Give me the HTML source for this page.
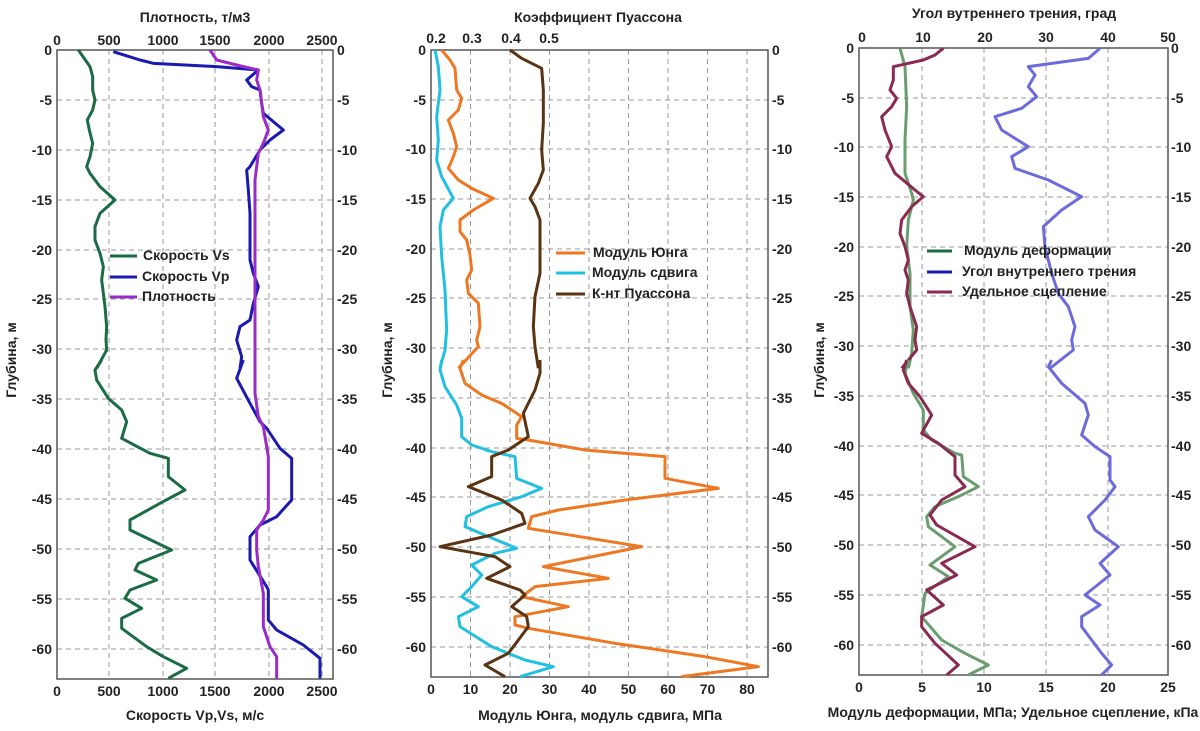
<!DOCTYPE html>
<html><head><meta charset="utf-8"><style>
html,body{margin:0;padding:0;background:#fff;}
svg{display:block;font-family:"Liberation Sans",Arial,sans-serif;font-weight:bold;}
.t{font-size:14px;fill:#222;}
.g{stroke:#999;stroke-width:1;stroke-dasharray:5,4;fill:none;}
.s{fill:none;stroke-width:3;vector-effect:non-scaling-stroke;stroke-linejoin:round;}
</style></head><body>
<svg width="1200" height="731" viewBox="0 0 1200 731">
<!-- PANEL 1 -->
<g>
<g class="g">
<line x1="109" y1="50" x2="109" y2="679"/><line x1="163" y1="50" x2="163" y2="679"/><line x1="215" y1="50" x2="215" y2="679"/><line x1="269" y1="50" x2="269" y2="679"/><line x1="322" y1="50" x2="322" y2="679"/>
<line x1="57" y1="50" x2="333" y2="50"/><line x1="57" y1="100" x2="333" y2="100"/><line x1="57" y1="150" x2="333" y2="150"/><line x1="57" y1="200" x2="333" y2="200"/><line x1="57" y1="250" x2="333" y2="250"/><line x1="57" y1="299" x2="333" y2="299"/><line x1="57" y1="349" x2="333" y2="349"/><line x1="57" y1="399" x2="333" y2="399"/><line x1="57" y1="449" x2="333" y2="449"/><line x1="57" y1="499" x2="333" y2="499"/><line x1="57" y1="549" x2="333" y2="549"/><line x1="57" y1="599" x2="333" y2="599"/><line x1="57" y1="649" x2="333" y2="649"/>
</g>
<rect x="57" y="50" width="276" height="629" fill="none" stroke="#555" stroke-width="1.5"/>
<g transform="translate(50,40) scale(0.33333)">
<polyline class="s" stroke="#1b6b45" points="85,30 120,80 128,110 128,150 135,180 128,210 112,240 118,270 128,310 120,350 110,380 120,400 150,440 195,480 150,520 135,560 135,600 150,640 160,680 155,720 160,760 165,800 170,860 168,900 170,930 140,985"/>
<polyline class="s" stroke="#1a1ab0" points="190,35 270,60 310,70 500,80 625,90 590,120 605,140 630,150 635,190 640,220 700,270 660,300 630,330 600,380 590,390 595,450 600,520 600,600 600,660 610,700 625,740 610,790 600,840 570,860 560,900 575,950 570,985"/>
<polyline class="s" stroke="#9b2bc8" points="480,30 500,60 560,75 625,90 620,120 630,150 635,190 640,230 655,270 640,310 625,340 620,380 615,420 615,980"/>
</g>
<g transform="translate(50,360) scale(0.33333)">
<polyline class="s" stroke="#1b6b45" points="155,0 135,30 140,60 175,115 215,150 230,185 215,235 300,280 355,295 355,350 405,390 330,430 240,480 240,510 365,570 265,610 255,630 320,660 240,690 225,715 275,745 215,775 215,805 290,860 340,890 410,925 355,955"/>
<polyline class="s" stroke="#1a1ab0" points="580,0 560,55 600,130 630,185 650,205 690,265 725,295 725,420 680,470 630,495 600,530 600,600 625,640 650,680 655,690 655,780 680,810 760,855 810,895 810,955"/>
<polyline class="s" stroke="#9b2bc8" points="615,0 615,100 625,170 640,200 655,290 655,450 640,480 620,510 620,570 625,620 640,700 640,800 660,860 680,890 680,955"/>
</g>
<g class="t" text-anchor="end">
<text x="52" y="55">0</text><text x="52" y="105">-5</text><text x="52" y="155">-10</text><text x="52" y="205">-15</text><text x="52" y="255">-20</text><text x="52" y="304">-25</text><text x="52" y="354">-30</text><text x="52" y="404">-35</text><text x="52" y="454">-40</text><text x="52" y="504">-45</text><text x="52" y="554">-50</text><text x="52" y="604">-55</text><text x="52" y="654">-60</text>
</g>
<g class="t" text-anchor="start">
<text x="337" y="55">0</text><text x="337" y="105">-5</text><text x="337" y="155">-10</text><text x="337" y="205">-15</text><text x="337" y="255">-20</text><text x="337" y="304">-25</text><text x="337" y="354">-30</text><text x="337" y="404">-35</text><text x="337" y="454">-40</text><text x="337" y="504">-45</text><text x="337" y="554">-50</text><text x="337" y="604">-55</text><text x="337" y="654">-60</text>
</g>
<g class="t" text-anchor="middle">
<text x="57" y="45">0</text><text x="109" y="45">500</text><text x="163" y="45">1000</text><text x="215" y="45">1500</text><text x="269" y="45">2000</text><text x="322" y="45">2500</text>
<text x="195" y="22">Плотность, т/м3</text>
<text x="57" y="696">0</text><text x="109" y="696">500</text><text x="163" y="696">1000</text><text x="215" y="696">1500</text><text x="269" y="696">2000</text><text x="322" y="696">2500</text>
<text x="195" y="720">Скорость Vp,Vs, м/с</text>
<text transform="translate(16,360) rotate(-90)">Глубина, м</text>
</g>
<line x1="110" y1="256" x2="137" y2="256" stroke="#1b6b45" stroke-width="3"/>
<line x1="110" y1="277" x2="137" y2="277" stroke="#1a1ab0" stroke-width="3"/>
<line x1="110" y1="297" x2="137" y2="297" stroke="#9b2bc8" stroke-width="3"/>
<text class="t" x="143" y="260">Скорость Vs</text>
<text class="t" x="142" y="281">Скорость Vp</text>
<text class="t" x="142" y="301">Плотность</text>
</g>

<!-- PANEL 2 -->
<g>
<g class="g">
<line x1="470.5" y1="50" x2="470.5" y2="677"/><line x1="510" y1="50" x2="510" y2="677"/><line x1="549.5" y1="50" x2="549.5" y2="677"/><line x1="589" y1="50" x2="589" y2="677"/><line x1="628.5" y1="50" x2="628.5" y2="677"/><line x1="668" y1="50" x2="668" y2="677"/><line x1="707.5" y1="50" x2="707.5" y2="677"/><line x1="747" y1="50" x2="747" y2="677"/>
<line x1="431" y1="50" x2="768" y2="50"/><line x1="431" y1="100" x2="768" y2="100"/><line x1="431" y1="149" x2="768" y2="149"/><line x1="431" y1="199" x2="768" y2="199"/><line x1="431" y1="249" x2="768" y2="249"/><line x1="431" y1="298" x2="768" y2="298"/><line x1="431" y1="348" x2="768" y2="348"/><line x1="431" y1="398" x2="768" y2="398"/><line x1="431" y1="448" x2="768" y2="448"/><line x1="431" y1="497" x2="768" y2="497"/><line x1="431" y1="547" x2="768" y2="547"/><line x1="431" y1="597" x2="768" y2="597"/><line x1="431" y1="647" x2="768" y2="647"/>
</g>
<rect x="431" y="50" width="337" height="627" fill="none" stroke="#555" stroke-width="1.5"/>
<g transform="translate(425,40) scale(0.33333)">
<polyline class="s" stroke="#ee7722" points="50,30 75,60 90,85 95,150 110,175 100,210 70,240 85,280 95,320 85,350 70,385 100,420 140,445 205,475 145,510 105,540 105,575 125,600 135,645 140,690 125,720 130,760 160,790 165,860 155,900 160,920 100,985"/>
<polyline class="s" stroke="#22c0e0" points="30,30 40,80 45,150 35,230 40,300 35,360 50,410 85,475 55,510 45,560 50,650 60,750 65,870 60,930 45,985"/>
<polyline class="s" stroke="#5a3412" points="255,30 290,55 350,85 355,150 355,250 350,330 355,390 340,430 315,475 330,500 345,540 345,600 345,700 330,770 325,860 330,920 340,985"/>
</g>
<g transform="translate(425,360) scale(0.33333)">
<polyline class="s" stroke="#ee7722" points="115,0 105,25 120,70 170,105 230,130 290,170 275,195 275,235 310,240 480,270 720,290 720,355 880,385 600,420 400,450 320,470 310,505 650,560 355,620 550,655 330,680 290,710 430,740 270,770 270,795 310,805 570,850 840,890 1000,920 770,950"/>
<polyline class="s" stroke="#22c0e0" points="50,0 45,30 60,80 95,135 110,175 110,230 140,255 200,275 270,290 275,355 350,385 290,410 190,440 125,470 120,500 190,530 275,565 210,580 140,615 170,645 140,680 110,710 160,740 100,770 105,800 200,860 300,900 385,920 285,950"/>
<polyline class="s" stroke="#5a3412" points="345,0 345,40 330,90 310,130 295,160 310,230 250,270 200,290 200,350 130,380 230,420 290,460 300,490 200,525 45,560 210,590 255,620 185,655 285,690 300,705 260,740 305,770 310,800 280,840 250,880 180,915 240,950"/>
</g>
<g class="t" text-anchor="end">
<text x="426" y="55">0</text><text x="426" y="105">-5</text><text x="426" y="154">-10</text><text x="426" y="204">-15</text><text x="426" y="254">-20</text><text x="426" y="303">-25</text><text x="426" y="353">-30</text><text x="426" y="403">-35</text><text x="426" y="453">-40</text><text x="426" y="502">-45</text><text x="426" y="552">-50</text><text x="426" y="602">-55</text><text x="426" y="652">-60</text>
</g>
<g class="t" text-anchor="start">
<text x="772" y="55">0</text><text x="772" y="105">-5</text><text x="772" y="154">-10</text><text x="772" y="204">-15</text><text x="772" y="254">-20</text><text x="772" y="303">-25</text><text x="772" y="353">-30</text><text x="772" y="403">-35</text><text x="772" y="453">-40</text><text x="772" y="502">-45</text><text x="772" y="552">-50</text><text x="772" y="602">-55</text><text x="772" y="652">-60</text>
</g>
<g class="t" text-anchor="middle">
<text x="436" y="43">0.2</text><text x="472" y="43">0.3</text><text x="511" y="43">0.4</text><text x="549" y="43">0.5</text>
<text x="598" y="22">Коэффициент Пуассона</text>
<text x="431" y="694">0</text><text x="470.5" y="694">10</text><text x="510" y="694">20</text><text x="549.5" y="694">30</text><text x="589" y="694">40</text><text x="628.5" y="694">50</text><text x="668" y="694">60</text><text x="707.5" y="694">70</text><text x="747" y="694">80</text>
<text x="600" y="720">Модуль Юнга, модуль сдвига, МПа</text>
<text transform="translate(392,360) rotate(-90)">Глубина, м</text>
</g>
<line x1="556" y1="253" x2="585" y2="253" stroke="#ee7722" stroke-width="3"/>
<line x1="556" y1="273" x2="585" y2="273" stroke="#22c0e0" stroke-width="3"/>
<line x1="556" y1="294" x2="585" y2="294" stroke="#5a3412" stroke-width="3"/>
<text class="t" x="593" y="257">Модуль Юнга</text>
<text class="t" x="592" y="277">Модуль сдвига</text>
<text class="t" x="592" y="298">К-нт Пуассона</text>
</g>

<!-- PANEL 3 -->
<g>
<g class="g">
<line x1="922" y1="48" x2="922" y2="675"/><line x1="984" y1="48" x2="984" y2="675"/><line x1="1046" y1="48" x2="1046" y2="675"/><line x1="1108" y1="48" x2="1108" y2="675"/>
<line x1="859" y1="48" x2="1168" y2="48"/><line x1="859" y1="98" x2="1168" y2="98"/><line x1="859" y1="147" x2="1168" y2="147"/><line x1="859" y1="197" x2="1168" y2="197"/><line x1="859" y1="247" x2="1168" y2="247"/><line x1="859" y1="296" x2="1168" y2="296"/><line x1="859" y1="346" x2="1168" y2="346"/><line x1="859" y1="396" x2="1168" y2="396"/><line x1="859" y1="446" x2="1168" y2="446"/><line x1="859" y1="495" x2="1168" y2="495"/><line x1="859" y1="545" x2="1168" y2="545"/><line x1="859" y1="595" x2="1168" y2="595"/><line x1="859" y1="645" x2="1168" y2="645"/>
</g>
<rect x="859" y="48" width="309" height="627" fill="none" stroke="#555" stroke-width="1.5"/>
<g transform="translate(855,40) scale(0.33333)">
<polyline class="s" stroke="#6a9e6e" points="135,25 150,80 155,200 150,300 150,400 170,460 175,480 160,540 155,620 165,700 165,800 175,870 170,940 160,985"/>
<polyline class="s" stroke="#8b2a50" points="265,25 240,45 205,60 115,80 115,120 105,150 125,175 110,200 80,230 90,270 110,320 95,350 120,400 180,450 205,470 170,500 140,540 135,580 150,620 160,660 150,690 160,720 155,760 165,800 185,860 180,900 185,930 140,985"/>
<polyline class="s" stroke="#6b6bdc" points="735,25 700,55 520,80 540,105 520,140 545,170 500,205 420,230 440,270 520,320 470,350 480,385 580,420 680,470 620,510 565,560 570,620 590,700 610,760 640,800 660,860 650,900 655,930 585,985"/>
</g>
<g transform="translate(855,360) scale(0.33333)">
<polyline class="s" stroke="#6a9e6e" points="160,0 150,40 175,100 205,150 205,210 230,240 300,280 320,285 325,350 370,380 310,410 240,440 215,470 220,500 300,560 225,615 280,650 210,700 200,770 260,840 330,880 400,915 340,945"/>
<polyline class="s" stroke="#8b2a50" points="155,0 145,30 160,70 195,110 230,165 200,220 250,250 300,290 300,345 330,380 260,420 225,465 245,495 360,560 260,610 305,645 215,690 265,735 200,770 200,800 240,850 310,915 275,945"/>
<polyline class="s" stroke="#6b6bdc" points="590,0 580,20 620,70 690,130 700,165 680,225 720,260 765,290 765,360 780,380 750,420 700,470 720,510 790,560 735,610 765,645 690,705 735,735 680,770 680,800 740,880 770,915 740,945"/>
</g>
<g class="t" text-anchor="end">
<text x="854" y="53">0</text><text x="854" y="103">-5</text><text x="854" y="152">-10</text><text x="854" y="202">-15</text><text x="854" y="252">-20</text><text x="854" y="301">-25</text><text x="854" y="351">-30</text><text x="854" y="401">-35</text><text x="854" y="451">-40</text><text x="854" y="500">-45</text><text x="854" y="550">-50</text><text x="854" y="600">-55</text><text x="854" y="650">-60</text>
</g>
<g class="t" text-anchor="start">
<text x="1171" y="53">0</text><text x="1171" y="103">-5</text><text x="1171" y="152">-10</text><text x="1171" y="202">-15</text><text x="1171" y="252">-20</text><text x="1171" y="301">-25</text><text x="1171" y="351">-30</text><text x="1171" y="401">-35</text><text x="1171" y="451">-40</text><text x="1171" y="500">-45</text><text x="1171" y="550">-50</text><text x="1171" y="600">-55</text><text x="1171" y="650">-60</text>
</g>
<g class="t" text-anchor="middle">
<text x="862" y="42">0</text><text x="923" y="42">10</text><text x="985" y="42">20</text><text x="1046" y="42">30</text><text x="1108" y="42">40</text><text x="1168" y="42">50</text>
<text x="1014" y="18">Угол вутреннего трения, град</text>
<text x="859" y="692">0</text><text x="922" y="692">5</text><text x="984" y="692">10</text><text x="1046" y="692">15</text><text x="1108" y="692">20</text><text x="1168" y="692">25</text>
<text x="1013" y="717">Модуль деформации, МПа; Удельное сцепление, кПа</text>
<text transform="translate(824,360) rotate(-90)">Глубина, м</text>
</g>
<line x1="927" y1="251" x2="952" y2="251" stroke="#1b6b45" stroke-width="3"/>
<line x1="927" y1="272" x2="952" y2="272" stroke="#1a1ab0" stroke-width="3"/>
<line x1="927" y1="292" x2="952" y2="292" stroke="#8b2a50" stroke-width="3"/>
<text class="t" x="964" y="255">Модуль деформации</text>
<text class="t" x="962" y="276">Угол внутреннего трения</text>
<text class="t" x="962" y="296">Удельное сцепление</text>
</g>
</svg>
</body></html>
